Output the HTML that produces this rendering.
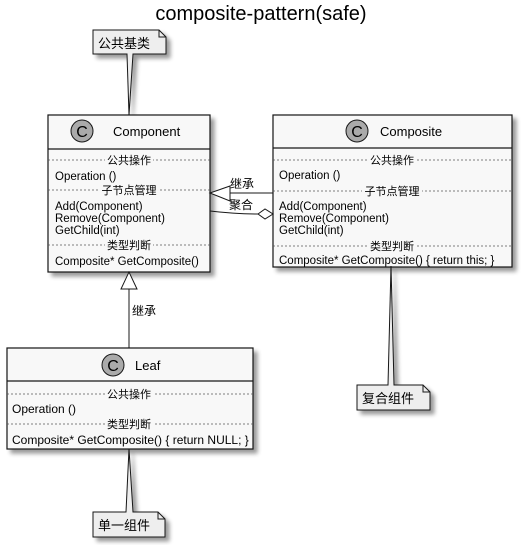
<!DOCTYPE html>
<html><head><meta charset="utf-8"><style>
html,body{margin:0;padding:0;background:#fff;}
svg text{font-family:"Liberation Sans","Noto Sans CJK SC",sans-serif;fill:#000;}
</style></head><body>
<svg width="522" height="545" viewBox="0 0 522 545" xmlns="http://www.w3.org/2000/svg">
<defs>
<filter id="sh" x="-10%" y="-10%" width="130%" height="130%"><feGaussianBlur in="SourceAlpha" stdDeviation="2"/><feOffset dx="4" dy="4"/><feComponentTransfer><feFuncA type="linear" slope="0.4"/></feComponentTransfer><feMerge><feMergeNode/><feMergeNode in="SourceGraphic"/></feMerge></filter>
</defs>
<text x="261" y="20" font-size="20" text-anchor="middle">composite-pattern(safe)</text>

<!-- note 公共基类 -->
<path d="M93,30 H159 L166,37 V54 H133 L129,115 L127,54 H93 Z" fill="#eeeeee" stroke="#181818" stroke-width="1" filter="url(#sh)"/>
<path d="M159,30 V37 H166" fill="none" stroke="#181818"/>
<text x="98" y="48" font-size="13">公共基类</text>

<!-- Component -->
<g filter="url(#sh)">
<rect x="48" y="115" width="162" height="157" fill="#f8f8f8" stroke="#181818" stroke-width="1.2"/>
</g>
<line x1="48" y1="149" x2="210" y2="149" stroke="#181818" stroke-width="1.2"/>
<circle cx="82" cy="131" r="11" fill="#aaaaaa" stroke="#181818"/>
<text x="82" y="137" font-size="16" text-anchor="middle">C</text>
<text x="113" y="136" font-size="13">Component</text>
<g stroke="#555" stroke-dasharray="2,2" stroke-width="0.8">
<line x1="48" y1="160" x2="210" y2="160"/><line x1="48" y1="190" x2="210" y2="190"/><line x1="48" y1="245" x2="210" y2="245"/>
</g>
<g font-size="11.5">
<rect x="105" y="153" width="48" height="13" fill="#f8f8f8"/><text x="129" y="164" text-anchor="middle" font-size="11">公共操作</text>
<text x="55" y="180">Operation ()</text>
<rect x="99" y="183" width="60" height="13" fill="#f8f8f8"/><text x="129" y="194" text-anchor="middle" font-size="11">子节点管理</text>
<text x="55" y="210">Add(Component)</text>
<text x="55" y="222">Remove(Component)</text>
<text x="55" y="234">GetChild(int)</text>
<rect x="105" y="238" width="48" height="13" fill="#f8f8f8"/><text x="129" y="249" text-anchor="middle" font-size="11">类型判断</text>
<text x="55" y="265">Composite* GetComposite()</text>
</g>

<!-- Composite -->
<g filter="url(#sh)">
<rect x="273" y="115" width="239" height="152" fill="#f8f8f8" stroke="#181818" stroke-width="1.2"/>
</g>
<line x1="273" y1="148" x2="512" y2="148" stroke="#181818" stroke-width="1.2"/>
<circle cx="357" cy="131" r="11" fill="#aaaaaa" stroke="#181818"/>
<text x="357" y="137" font-size="16" text-anchor="middle">C</text>
<text x="380" y="136" font-size="13">Composite</text>
<g stroke="#555" stroke-dasharray="2,2" stroke-width="0.8">
<line x1="273" y1="160" x2="512" y2="160"/><line x1="273" y1="191" x2="512" y2="191"/><line x1="273" y1="246" x2="512" y2="246"/>
</g>
<g font-size="11.5">
<rect x="368" y="153" width="48" height="13" fill="#f8f8f8"/><text x="392" y="164" text-anchor="middle" font-size="11">公共操作</text>
<text x="279" y="179">Operation ()</text>
<rect x="362" y="184" width="60" height="13" fill="#f8f8f8"/><text x="392" y="195" text-anchor="middle" font-size="11">子节点管理</text>
<text x="279" y="210">Add(Component)</text>
<text x="279" y="222">Remove(Component)</text>
<text x="279" y="234">GetChild(int)</text>
<rect x="368" y="239" width="48" height="13" fill="#f8f8f8"/><text x="392" y="250" text-anchor="middle" font-size="11">类型判断</text>
<text x="279" y="264">Composite* GetComposite() { return this; }</text>
</g>

<!-- connectors Composite -> Component -->
<line x1="230" y1="193" x2="273" y2="193" stroke="#181818"/>
<polygon points="210,193 230,186 230,201" fill="#fff" stroke="#181818"/>
<text x="230" y="188" font-size="12">继承</text>
<path d="M210,211 Q235,214 258,214" fill="none" stroke="#181818"/>
<polygon points="258,214 265,209 273,214 265,219" fill="#fff" stroke="#181818"/>
<text x="229" y="209" font-size="12">聚合</text>

<!-- Leaf -> Component -->
<line x1="129" y1="289" x2="129" y2="348" stroke="#181818"/>
<polygon points="129,272 121,289 137,289" fill="#fff" stroke="#181818"/>
<text x="132" y="315" font-size="12">继承</text>

<!-- note 复合组件 -->
<path d="M357,385 H388 L391,266 L394,385 H423 L430,392 V410 H357 Z" fill="#eeeeee" stroke="#181818" filter="url(#sh)"/>
<path d="M423,385 V392 H430" fill="none" stroke="#181818"/>
<text x="362" y="403" font-size="13">复合组件</text>

<!-- Leaf -->
<g filter="url(#sh)">
<rect x="7" y="348" width="246" height="101" fill="#f8f8f8" stroke="#181818" stroke-width="1.2"/>
</g>
<line x1="7" y1="381" x2="253" y2="381" stroke="#181818" stroke-width="1.2"/>
<circle cx="113" cy="365" r="11" fill="#aaaaaa" stroke="#181818"/>
<text x="113" y="371" font-size="16" text-anchor="middle">C</text>
<text x="135" y="370" font-size="13">Leaf</text>
<g stroke="#555" stroke-dasharray="2,2" stroke-width="0.8">
<line x1="7" y1="394" x2="253" y2="394"/><line x1="7" y1="424" x2="253" y2="424"/>
</g>
<g font-size="12">
<rect x="105" y="387" width="48" height="13" fill="#f8f8f8"/><text x="129" y="398" text-anchor="middle" font-size="11">公共操作</text>
<text x="12" y="413">Operation ()</text>
<rect x="105" y="417" width="48" height="13" fill="#f8f8f8"/><text x="129" y="428" text-anchor="middle" font-size="11">类型判断</text>
<text x="12" y="444">Composite* GetComposite() { return NULL; }</text>
</g>

<!-- note 单一组件 -->
<path d="M93,512 H126 L129,449 L133,512 H158 L165,519 V537 H93 Z" fill="#eeeeee" stroke="#181818" filter="url(#sh)"/>
<path d="M158,512 V519 H165" fill="none" stroke="#181818"/>
<text x="98" y="530" font-size="13">单一组件</text>
</svg>
</body></html>
